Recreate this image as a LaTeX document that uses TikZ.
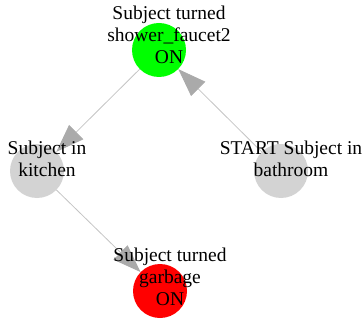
\documentclass[tikz,border=0pt]{standalone}
\usepackage{fontspec}
\setmainfont{Liberation Serif}
\usetikzlibrary{arrows.meta}
\definecolor{nodegray}{RGB}{211,211,211}
\definecolor{nodegreen}{RGB}{0,255,0}
\definecolor{nodered}{RGB}{255,0,0}
\definecolor{edgegray}{RGB}{196,196,196}
\definecolor{tipgray}{RGB}{170,170,170}
\begin{document}
\begin{tikzpicture}[x=1pt,y=-1pt,
  dot/.style={circle, minimum size=#1, inner sep=0pt, draw=none},
  lbl/.style={font=\fontsize{19.5}{22}\selectfont, align=center, inner sep=0pt, anchor=north},
  link/.style={draw=edgegray, line width=0.8pt, -{Triangle[length=28pt,width=20pt,color=tipgray,fill=tipgray]}}]
\useasboundingbox (0,0) rectangle (363,320);
\node[dot=54pt, fill=nodegreen] (G) at (159,50) {};
\node[dot=54pt, fill=nodegray] (K) at (37,171) {};
\node[dot=54pt, fill=nodegray] (B) at (281,171) {};
\node[dot=54pt, fill=nodered] (R) at (160,291) {};
\draw[link] (B) -- (G);
\draw[link] (G) -- (K);
\draw[link] (K) -- (R);
\node[lbl] (Gl) at (169,6) {Subject turned\\shower\_faucet2\\ON};
\node[lbl] (Kl) at (47,141) {Subject in\\kitchen};
\node[lbl] (Bl) at (291,141) {START Subject in\\bathroom};
\node[lbl] (Rl) at (170,248) {Subject turned\\garbage\\ON};
\end{tikzpicture}
\end{document}
